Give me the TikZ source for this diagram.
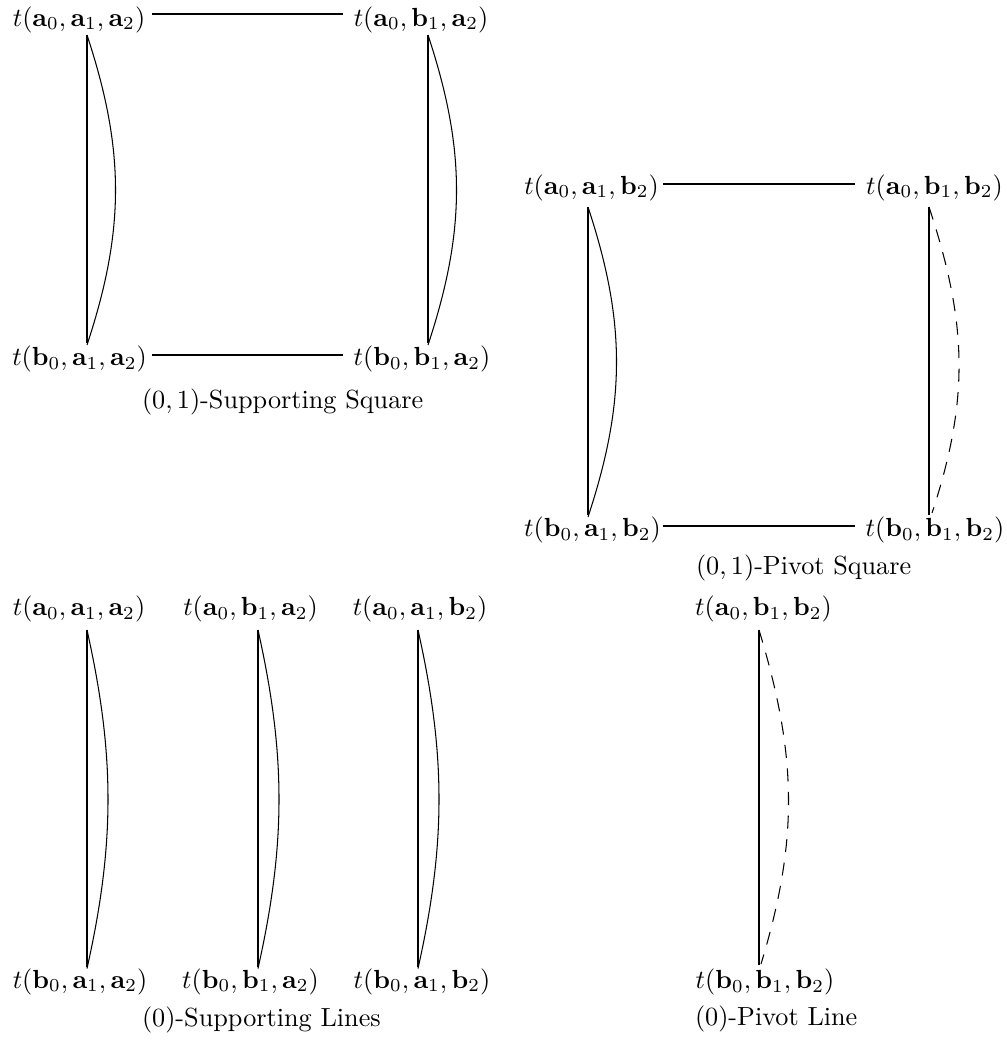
\documentclass[tikz,border=0pt]{standalone}
\usetikzlibrary{calc}
\begin{document}
\begin{tikzpicture}[x=0.3815pt,y=-0.3815pt,
  lab/.style={inner sep=0pt, outer sep=0pt, anchor=center},
  capbox/.style={inner sep=0pt, outer sep=0pt, anchor=west},
  link/.style={line width=0.4pt},
  dlink/.style={line width=0.4pt, dash pattern=on 5pt off 4pt}]
\useasboundingbox (0,0) rectangle (1006,1040);

% (0,1)-Supporting Square
\node[lab] (A1) at (79,19.5) {$t(\mathbf{a}_0,\mathbf{a}_1,\mathbf{a}_2)$};
\node[lab] (A2) at (421,19.5) {$t(\mathbf{a}_0,\mathbf{b}_1,\mathbf{a}_2)$};
\node[lab] (A3) at (79.5,359) {$t(\mathbf{b}_0,\mathbf{a}_1,\mathbf{a}_2)$};
\node[lab] (A4) at (422,359) {$t(\mathbf{b}_0,\mathbf{b}_1,\mathbf{a}_2)$};
\node[capbox] (capA) at (142,402) {$(0,1)$-Supporting Square};
\draw[link] ($(A1)+(73,-5.5)$) -- ($(A2)+(-78,-5.5)$);
\draw[link] ($(A3)+(72.5,-4)$) -- ($(A4)+(-79,-4)$);
\draw[link] ($(A1)+(8,15.5)$) -- ($(A3)+(7.5,-16)$);
\draw[link] ($(A1)+(8,15.5)$) .. controls +(38,115) and +(38,-115) .. ($(A3)+(7.5,-14)$);
\draw[link] ($(A2)+(7,15.5)$) -- ($(A4)+(6,-16)$);
\draw[link] ($(A2)+(7,15.5)$) .. controls +(38,115) and +(38,-115) .. ($(A4)+(6,-14)$);

% (0,1)-Pivot Square
\node[lab] (B1) at (591.5,187.5) {$t(\mathbf{a}_0,\mathbf{a}_1,\mathbf{b}_2)$};
\node[lab] (B2) at (934.5,187.5) {$t(\mathbf{a}_0,\mathbf{b}_1,\mathbf{b}_2)$};
\node[lab] (B3) at (592.5,530) {$t(\mathbf{b}_0,\mathbf{a}_1,\mathbf{b}_2)$};
\node[lab] (B4) at (935,530) {$t(\mathbf{b}_0,\mathbf{b}_1,\mathbf{b}_2)$};
\node[capbox] (capB) at (696,568) {$(0,1)$-Pivot Square};
\draw[link] ($(B1)+(71.5,-3.5)$) -- ($(B2)+(-79.5,-3.5)$);
\draw[link] ($(B3)+(70.5,-4)$) -- ($(B4)+(-80,-4)$);
\draw[link] ($(B1)+(-3.5,19.5)$) -- ($(B3)+(-4.5,-15)$);
\draw[link] ($(B1)+(-3.5,19.5)$) .. controls +(38,115) and +(38,-115) .. ($(B3)+(-4.5,-13)$);
\draw[link] ($(B2)+(-5.5,19.5)$) -- ($(B4)+(-6,-15)$);
\draw[dlink] ($(B2)+(-5.5,19.5)$) .. controls +(38,115) and +(38,-115) .. ($(B4)+(-3,-17)$);

% (0)-Supporting Lines
\node[lab] (C1) at (79,609) {$t(\mathbf{a}_0,\mathbf{a}_1,\mathbf{a}_2)$};
\node[lab] (C2) at (250.5,609) {$t(\mathbf{a}_0,\mathbf{b}_1,\mathbf{a}_2)$};
\node[lab] (C3) at (420,609) {$t(\mathbf{a}_0,\mathbf{a}_1,\mathbf{b}_2)$};
\node[lab] (C4) at (80,981.5) {$t(\mathbf{b}_0,\mathbf{a}_1,\mathbf{a}_2)$};
\node[lab] (C5) at (250.5,981.5) {$t(\mathbf{b}_0,\mathbf{b}_1,\mathbf{a}_2)$};
\node[lab] (C6) at (422,981.5) {$t(\mathbf{b}_0,\mathbf{a}_1,\mathbf{b}_2)$};
\node[capbox] (capC) at (142,1020) {$(0)$-Supporting Lines};
\draw[link] ($(C1)+(8,21)$) -- ($(C4)+(7,-14.5)$);
\draw[link] ($(C1)+(8,21)$) .. controls +(28,125) and +(28,-125) .. ($(C4)+(7,-13)$);
\draw[link] ($(C2)+(7.5,21)$) -- ($(C5)+(7.5,-14.5)$);
\draw[link] ($(C2)+(7.5,21)$) .. controls +(28,125) and +(28,-125) .. ($(C5)+(7.5,-13)$);
\draw[link] ($(C3)+(-2,21)$) -- ($(C6)+(-4,-14.5)$);
\draw[link] ($(C3)+(-2,21)$) .. controls +(28,125) and +(28,-125) .. ($(C6)+(-4,-13)$);

% (0)-Pivot Line
\node[lab] (D1) at (763.5,609) {$t(\mathbf{a}_0,\mathbf{b}_1,\mathbf{b}_2)$};
\node[lab] (D2) at (765,982) {$t(\mathbf{b}_0,\mathbf{b}_1,\mathbf{b}_2)$};
\node[capbox] (capD) at (695,1019) {$(0)$-Pivot Line};
\draw[link] ($(D1)+(-4.5,21)$) -- ($(D2)+(-6,-17)$);
\draw[dlink] ($(D1)+(-4.5,21)$) .. controls +(38,125) and +(38,-125) .. ($(D2)+(-4,-18)$);
\end{tikzpicture}
\end{document}
